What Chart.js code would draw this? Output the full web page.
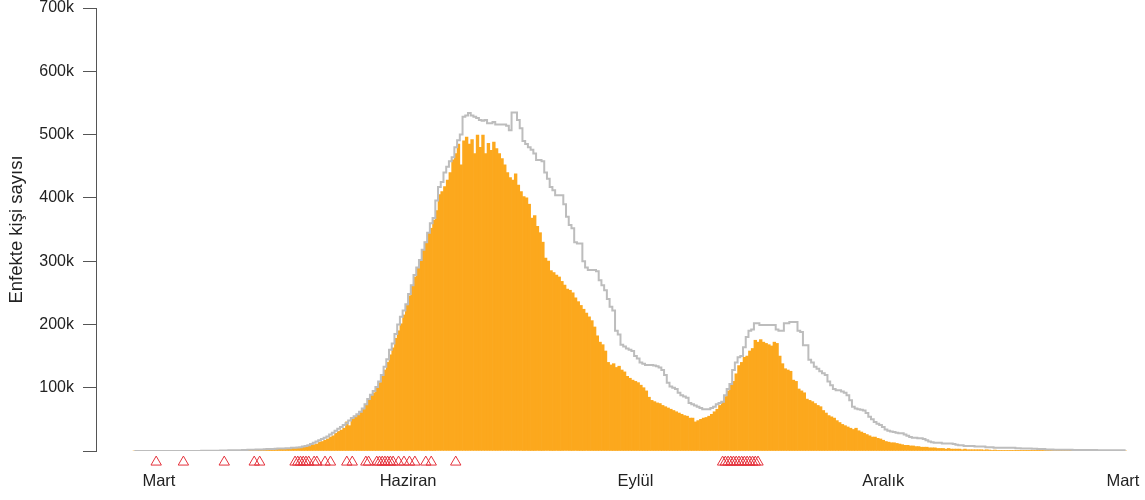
<!DOCTYPE html>
<html lang="tr">
<head>
<meta charset="utf-8">
<title>Enfekte kişi sayısı</title>
<script src="https://cdn.jsdelivr.net/npm/chart.js"></script>
<style>
  body { margin: 0; background: #fff; }
</style>
</head>
<body>
<canvas id="myChart" width="1145" height="500"></canvas>
<script>
const ctx = document.getElementById("myChart");

// gunluk enfekte sayisi (bin kisi), her gun bir cubuk
const gunluk = [
  0,0,0,0,0,0,0,0,0,0,
  0,0,0,0,0,0,0,0,0,0,
  0,0,0,0,0,0,0,0.5,0,0,
  0.5,0,0.5,0.5,0.5,1,0.5,1,1,1,
  1,1.5,1,1.5,2,1.5,2,2,2.5,2,
  2.5,3,3,3.5,3,4,3.5,4,4.5,4,
  5,5.5,6,7,8,9,10,11,14,15,
  17,19,22,24,28,31,33,36,46,40,
  50,55,58,62,67,74,82,88,92,99,
  108,118,128,140,152,163,178,190,201,215,
  230,245,262,275,290,302,318,330,345,352,
  365,380,405,410,418,428,440,460,470,485,
  452,490,496,485,492,470,499,480,499,470,
  486,475,488,478,470,462,452,440,432,428,
  438,420,410,402,400,390,368,372,355,345,
  330,305,300,285,282,278,275,268,262,256,
  254,250,242,236,230,224,218,212,206,196,
  182,172,168,158,140,136,138,132,134,128,
  125,118,115,112,110,108,104,100,95,85,
  80,78,76,75,72,70,68,66,64,62,
  60,58,56,55,52,52,46,48,50,52,
  53,55,58,62,66,72,78,86,95,105,
  110,122,135,140,148,150,158,162,175,172,
  176,172,170,168,166,172,170,150,138,130,
  128,126,112,110,98,95,92,82,80,78,
  75,72,70,64,60,56,54,52,48,45,
  42,40,38,36,34,36,32,30,28,26,
  24,22,22,20,19,17,15,14,13,13,
  12,11,10,9,9,8,8,7,7,6,
  6,6,5,5,5,4,4,4,3,4,
  3,3,3,3,2,3,2,2,2,2,
  2,2,1.5,2,1.5,1,1.5,1,1,1,
  1,1,0.5,1,0.5,0.5,1,0.5,0.5,0.5,
  0.5,0.3,0.5,0.3,0.3,0.2,0.3,0.2,0.2,0.2,
  0.2,0.1,0.1,0.1,0.1,0.1,0,0.1,0,0,
  0,0,0,0,0,0,0,0,0,0,
  0,0,0,0,0
];

// gri basamakli cizgi (bin kisi)
const gri = [
  0,0,0,0,0,0,0,0,0,0,
  0,0,0,0,0,0,0,0,0,0,
  0,0,0,0,0,0.3,0.3,0.5,0.5,0.5,
  0.5,0.5,0.7,0.7,0.8,1,1,1,1.2,1.2,
  1.5,1.5,1.8,2,2,2.2,2.5,2.5,2.8,3,
  3,3.2,3.5,3.8,4,4,4.5,4.5,5,5,
  5.5,6,7,8,9,11,13,15,17,19,
  21,23,26,29,32,35,38,41,44,48,
  52,55,58,62,67,74,82,89,95,101,
  110,120,133,145,160,170,185,200,212,222,
  232,248,262,278,290,302,318,330,345,360,
  368,396,417,425,440,449,458,464,480,491,
  500,528,530,534,530,528,526,523,522,523,
  518,518,520,516,516,516,516,514,507,535,
  535,523,510,490,485,480,476,470,460,460,
  458,440,430,417,412,404,404,404,390,370,
  357,352,330,328,328,300,290,286,286,286,
  284,270,262,254,240,228,222,190,184,168,
  165,162,160,158,150,146,140,138,136,136,
  136,135,134,132,128,120,108,102,100,98,
  92,88,86,84,76,74,72,70,68,66,
  66,66,68,70,74,76,78,88,98,106,
  128,140,148,150,164,180,190,192,202,202,
  199,199,199,199,199,199,192,190,190,202,
  202,204,204,204,190,188,167,167,144,140,
  133,130,126,123,120,110,104,98,96,96,
  94,92,88,80,70,67,66,65,64,60,
  54,50,46,43,41,38,34,32,31,30,
  29,28,28,26,24,22,21,21,20,20,
  19,17,15,14,13,13,13,12,12,12,
  12,11,10,9,9,8,8,8,8,7,
  7,7,7,6,6,6,5,5,5,5,
  5,5,5,5,4.5,4.5,4,4,4,4,
  3.5,3.5,3,3,3,2.5,2.5,2.5,2,2,
  2,2,2,2,2,1.5,1.5,1.5,1.5,1.5,
  1.5,1.5,1.5,1.5,1,1,1,1,1,1,
  1,1,1,1,1
];

// kirmizi ucgenlerin oldugu gunler
const olaylar = [8, 18, 33, 44, 46,
  59, 60, 61, 62, 63, 64, 66, 67, 70, 72, 78, 80,
  85, 86, 89, 90, 91, 92, 93, 94, 95, 97, 99, 101, 103, 107, 109, 118,
  216, 217, 218, 219, 220, 221, 222, 223, 224, 225, 226, 227, 228, 229];

// x ekseni etiketleri
const ayGunleri = [9, 100.5, 184, 275, 363];
const ayAdlari = ["Mart", "Haziran", "Eylül", "Aralık", "Mart"];

const gunler = gunluk.map((v, i) => i);

const yaziTipi = "'Liberation Sans', Arial, sans-serif";
const olayY = -17.5; // ucgenler eksenin altinda

// ucgenleri grafik alaninin disina cizen eklenti
const ucgenler = {
  id: "ucgenler",
  afterDatasetsDraw(chart) {
    const c = chart.ctx;
    const sx = chart.scales.x;
    const sy = chart.scales.y;
    c.save();
    c.strokeStyle = "#e4323c";
    c.lineWidth = 1;
    olaylar.forEach((d) => {
      const px = sx.getPixelForValue(d);
      const py = sy.getPixelForValue(olayY);
      c.beginPath();
      c.moveTo(px, py - 6);
      c.lineTo(px + 5.2, py + 3);
      c.lineTo(px - 5.2, py + 3);
      c.closePath();
      c.stroke();
    });
    c.restore();
  }
};

new Chart(ctx, {
  type: "bar",
  data: {
    datasets: [
      {
        type: "line",
        label: "gri",
        data: gunler.map((d, i) => ({ x: d, y: gri[i] })),
        borderColor: "#bdbdbd",
        borderWidth: 2,
        pointRadius: 0,
        stepped: "middle",
        order: 0
      },
      {
        type: "bar",
        label: "gunluk",
        data: gunler.map((d, i) => ({ x: d, y: gunluk[i] })),
        backgroundColor: "#fca81d",
        borderWidth: 0,
        barPercentage: 1,
        categoryPercentage: 1,
        order: 1
      }
    ]
  },
  options: {
    responsive: false,
    animation: false,
    devicePixelRatio: 1,
    layout: { padding: { top: 8, right: 18, left: 0, bottom: 0 } },
    plugins: {
      legend: { display: false },
      tooltip: { enabled: false }
    },
    scales: {
      x: {
        type: "linear",
        min: -14.1,
        max: 364.5,
        offset: false,
        grid: { display: false, drawTicks: false },
        border: { display: false },
        afterBuildTicks: (s) => {
          s.ticks = ayGunleri.map((v) => ({ value: v }));
        },
        afterFit: (s) => {
          s.height = 49;
          s.paddingLeft = 0;
          s.paddingRight = 0;
        },
        ticks: {
          padding: 21,
          maxRotation: 0,
          autoSkip: false,
          color: "#222",
          font: { family: yaziTipi, size: 16.5 },
          callback: (v, i) => ayAdlari[i]
        }
      },
      y: {
        min: 0,
        max: 700,
        afterFit: (s) => {
          s.width = 96;
          s.paddingTop = 0;
          s.paddingBottom = 0;
        },
        ticks: {
          stepSize: 100,
          padding: 9,
          color: "#222",
          font: { family: yaziTipi, size: 16 },
          callback: (v) => (v === 0 ? "" : v + "k")
        },
        grid: { drawOnChartArea: false, tickLength: 13, color: "#555" },
        border: { display: true, color: "#555" },
        title: {
          display: true,
          text: "Enfekte kişi sayısı",
          color: "#222",
          font: { family: yaziTipi, size: 18.5 },
          padding: { top: 6, bottom: 0 }
        }
      }
    }
  },
  plugins: [ucgenler]
});
</script>
</body>
</html>
